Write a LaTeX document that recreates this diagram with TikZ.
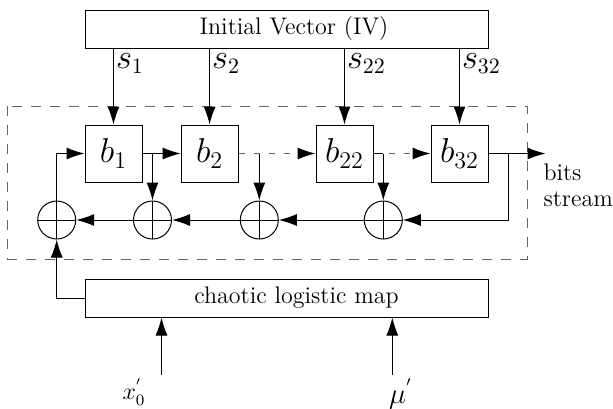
\documentclass[tikz,border=0pt]{standalone}
\usetikzlibrary{arrows.meta,calc}
\begin{document}
\begin{tikzpicture}[x=0.5pt,y=-0.5pt,
  line width=0.5pt,
  arr/.style={-{Latex[length=9pt,width=6pt,color=black]}},
  dsh/.style={dash pattern=on 3pt off 4.5pt, draw=black!60},
  wide/.style={draw, minimum width=201.5pt, minimum height=19pt, inner sep=0pt, font=\large},
  reg/.style={draw, minimum width=28.5pt, minimum height=28.5pt, inner sep=0pt, font=\LARGE},
  xorc/.style={draw, circle, minimum size=19pt, inner sep=0pt,
    path picture={\draw (path picture bounding box.north) -- (path picture bounding box.south)
                        (path picture bounding box.west) -- (path picture bounding box.east);}},
  slab/.style={anchor=west, inner sep=1pt, font=\fontsize{16}{19}\selectfont}
]
\useasboundingbox (0,0) rectangle (613,408);

% boxes
\node[wide] (IV) at (286.5,29) {\hspace*{7.5pt}Initial Vector (IV)};
\node[wide] (CLM) at (286.5,298) {\hspace*{10pt}chaotic logistic map};

\node[reg] (b1) at (113.5,153.5) {$b_1$};
\node[reg] (b2) at (209.6,153.5) {$b_2$};
\node[reg] (b22) at (344.5,153.5) {$b_{22}$};
\node[reg] (b32) at (459.5,153.5) {$b_{32}$};

\node[xorc] (x1) at (56.7,220) {};
\node[xorc] (x2) at (152.5,220) {};
\node[xorc] (x3) at (259.3,220) {};
\node[xorc] (x4) at (383.3,220) {};

% dashed enclosure
\draw[dash pattern=on 5pt off 4.5pt, draw=black!60] (7.8,106) rectangle (527,259);

% IV to registers
\foreach \b/\s in {b1/1, b2/2, b22/22, b32/32}{
  \draw[arr] (IV.south -| \b) -- (\b.north);
  \node[slab] at ($(IV.south -| \b)+(0,15)$) {$s_{\s}$};
}

% shift chain
\draw[arr] (b1.east) -- (b2.west);
\draw[arr, dsh] (b2.east) -- (b22.west);
\draw[arr, dsh] (b22.east) -- (b32.west);
\draw (b22.east) -- (b22.east -| x4);
\coordinate (out) at (545.5,153.5);
\draw[arr] (b32.east) -- (out);

% taps
\draw[arr] (b1.east -| x2) -- (x2.north);
\draw[arr] (b2.east -| x3) -- (x3.north);
\draw[arr] (b22.east -| x4) -- (x4.north);

% feedback
\coordinate (fb) at (508,153.5);
\draw[arr] (fb) |- (x4.east);
\draw[arr] (x4.west) -- (x3.east);
\draw[arr] (x3.west) -- (x2.east);
\draw[arr] (x2.west) -- (x1.east);
\draw[arr] (x1.north) |- (b1.west);

% chaotic map to XOR
\draw[arr] (CLM.west) -| (x1.south);

% inputs
\coordinate (xin) at (161.5,375);
\coordinate (muin) at (392.3,375);
\draw[arr] (xin) -- (CLM.south -| xin);
\draw[arr] (muin) -- (CLM.south -| muin);
\node[font=\large, inner sep=0pt] (xl) at (134,392) {$x_0^{'}$};
\node[font=\Large, inner sep=0pt] (ml) at (401,394) {$\mu^{'}$};

% output label
\node[anchor=west, align=left, font=\fontsize{12}{13}\selectfont, inner sep=0pt] (bs) at (543,185) {bits\\stream};
\end{tikzpicture}
\end{document}
